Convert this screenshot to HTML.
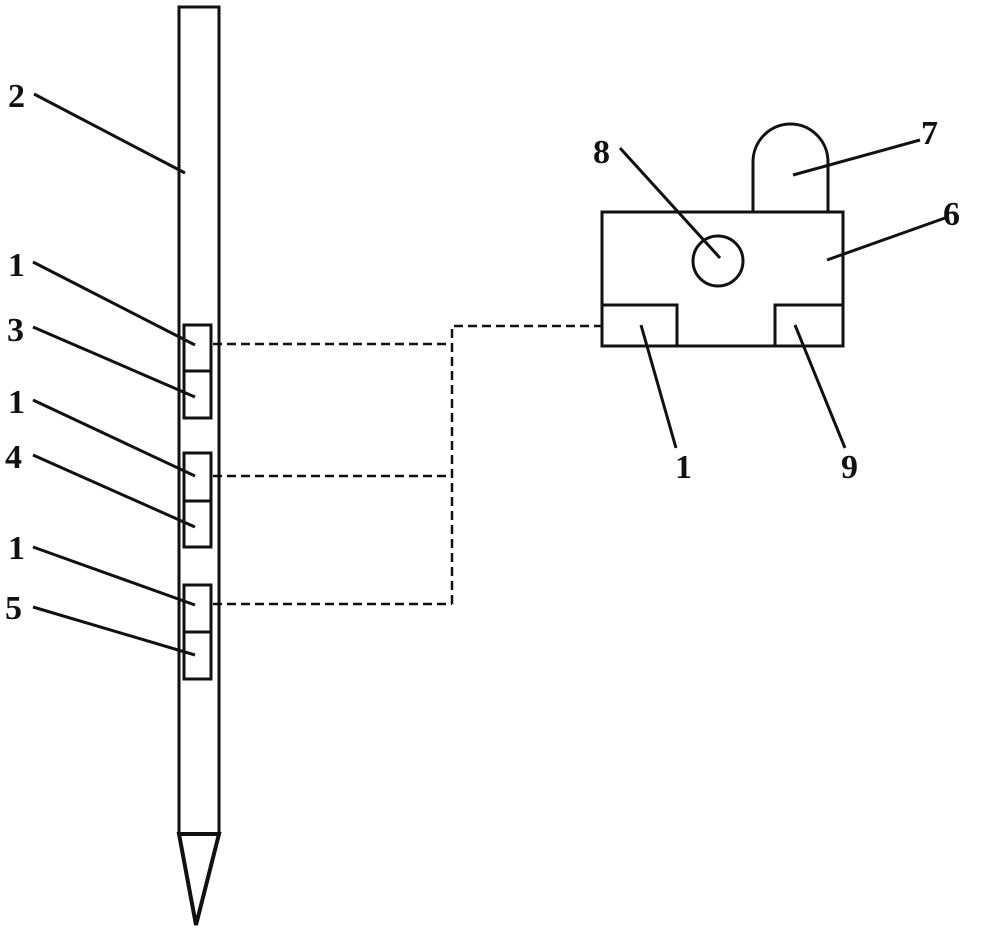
<!DOCTYPE html>
<html><head><style>body{margin:0;background:#fff}svg{display:block}text{font-family:"Liberation Serif",serif;font-weight:bold;font-size:34px;fill:#111}</style></head>
<body>
<svg width="1000" height="936" viewBox="0 0 1000 936" xmlns="http://www.w3.org/2000/svg">
<g fill="none" stroke="#111" stroke-width="3">
<rect x="179" y="7" width="40" height="827"/>
<polygon points="179,834 219,834 196,925" stroke-width="4"/>
<rect x="184" y="325" width="27" height="93"/><line x1="184" y1="371" x2="211" y2="371"/>
<rect x="184" y="453" width="27" height="94"/><line x1="184" y1="501" x2="211" y2="501"/>
<rect x="184" y="585" width="27" height="94"/><line x1="184" y1="632" x2="211" y2="632"/>
<g stroke-dasharray="9,5" stroke-width="2.5">
<line x1="213" y1="344" x2="452" y2="344"/>
<line x1="213" y1="476" x2="452" y2="476"/>
<line x1="213" y1="604" x2="452" y2="604"/>
<polyline points="452,604 452,326 601,326"/>
</g>
<path d="M753,212 L753,162 A37.5,38 0 0 1 828,162 L828,212" stroke-width="3"/>
<rect x="602" y="212" width="241" height="134"/>
<rect x="602" y="305" width="75" height="41"/>
<rect x="775" y="305" width="68" height="41"/>
<circle cx="718" cy="261" r="25"/>
<g stroke-width="3">
<line x1="34" y1="94" x2="185" y2="173"/>
<line x1="33" y1="262" x2="195" y2="345"/>
<line x1="33" y1="327" x2="195" y2="397"/>
<line x1="33" y1="400" x2="195" y2="476"/>
<line x1="33" y1="455" x2="195" y2="527"/>
<line x1="33" y1="547" x2="195" y2="605"/>
<line x1="33" y1="607" x2="195" y2="655"/>
<line x1="620" y1="148" x2="720" y2="258"/>
<line x1="920" y1="140" x2="793" y2="175"/>
<line x1="945" y1="218" x2="827" y2="260"/>
<line x1="641" y1="325" x2="676" y2="448"/>
<line x1="795" y1="325" x2="845" y2="448"/>
</g>
</g>
<text x="8" y="107">2</text>
<text x="8" y="276">1</text>
<text x="7" y="341">3</text>
<text x="8" y="413">1</text>
<text x="5" y="468">4</text>
<text x="8" y="559">1</text>
<text x="5" y="619">5</text>
<text x="593" y="163">8</text>
<text x="921" y="144">7</text>
<text x="943" y="225">6</text>
<text x="675" y="478">1</text>
<text x="841" y="478">9</text>
</svg>
</body></html>
